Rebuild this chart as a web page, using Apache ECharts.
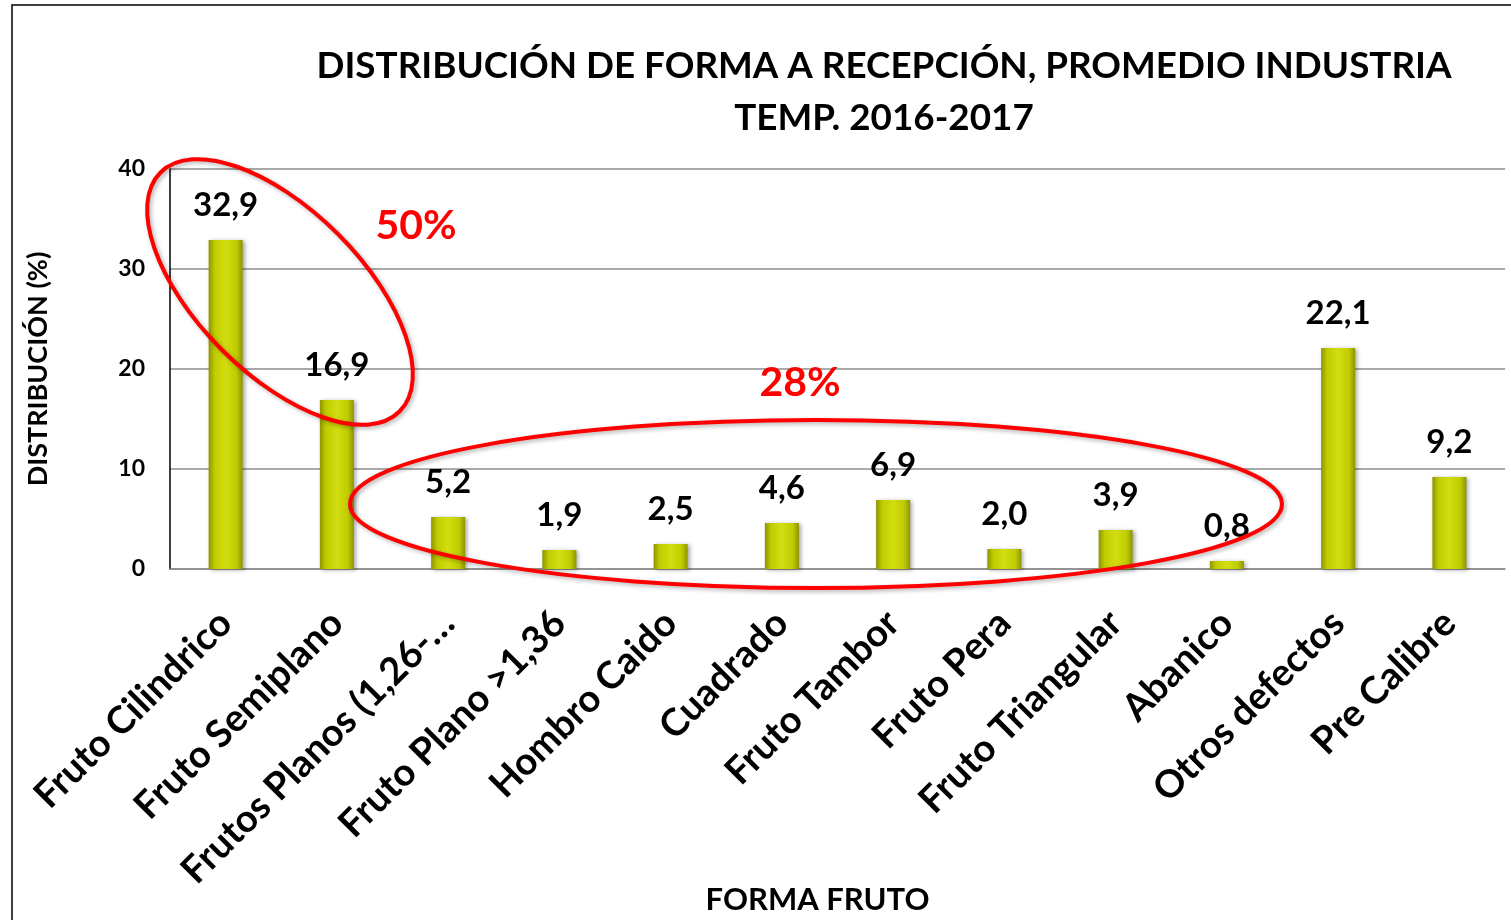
<!DOCTYPE html>
<html>
<head>
<meta charset="utf-8">
<title>Distribución de forma</title>
<script src="https://cdn.jsdelivr.net/npm/echarts@6/dist/echarts.min.js"></script>
<style>
  html, body { margin: 0; padding: 0; background: #fff; }
  #chart { width: 1511px; height: 920px; }
</style>
</head>
<body>
<div id="chart"></div>
<script>
// datos
var categorias = ['Fruto Cilindrico', 'Fruto Semiplano', 'Frutos Planos (1,26-…', 'Fruto Plano >1,36',
  'Hombro Caido', 'Cuadrado', 'Fruto Tambor', 'Fruto Pera', 'Fruto Triangular', 'Abanico',
  'Otros defectos', 'Pre Calibre'];
var valores = [32.9, 16.9, 5.2, 1.9, 2.5, 4.6, 6.9, 2.0, 3.9, 0.8, 22.1, 9.2];
var ticksY = [0, 10, 20, 30, 40];

var fuente = 'Lato';

var myChart = echarts.init(document.getElementById('chart'));

var colorBarra = new echarts.graphic.LinearGradient(0, 0, 1, 0, [
  { offset: 0, color: '#8e9500' },
  { offset: 0.18, color: '#bfcc00' },
  { offset: 0.5, color: '#d3de12' },
  { offset: 0.82, color: '#bfcc00' },
  { offset: 1, color: '#8e9500' }
]);

var option = {
  backgroundColor: '#fff',
  animation: false,
  textStyle: { fontFamily: fuente },
  title: {
    text: 'DISTRIBUCIÓN DE FORMA A RECEPCIÓN, PROMEDIO INDUSTRIA\nTEMP. 2016-2017',
    left: 879,
    top: 35,
    textAlign: 'center',
    textStyle: {
      fontFamily: fuente,
      fontWeight: 'bold',
      fontSize: 36.8,
      lineHeight: 52,
      color: '#000'
    }
  },
  grid: {
    left: 170,
    right: 6,
    top: 169,
    bottom: 351,
    outerBoundsMode: 'none'
  },
  xAxis: {
    type: 'category',
    data: categorias,
    name: 'FORMA FRUTO',
    nameLocation: 'middle',
    nameGap: 315,
    nameMoveOverlap: false,
    nameTextStyle: { fontFamily: fuente, fontWeight: 'bold', fontSize: 31, color: '#000', padding: [0, 40, 0, 0] },
    axisLine: { lineStyle: { color: '#8c8c8c', width: 1.5 } },
    axisTick: { show: false },
    axisLabel: {
      interval: 0,
      rotate: 45,
      margin: 48,
      fontFamily: fuente,
      fontWeight: 'bold',
      fontSize: 38,
      color: '#000'
    }
  },
  yAxis: {
    type: 'value',
    min: ticksY[0],
    max: ticksY[ticksY.length - 1],
    interval: 10,
    name: 'DISTRIBUCIÓN (%)',
    nameLocation: 'middle',
    nameGap: 118,
    nameRotate: 90,
    nameMoveOverlap: false,
    nameTextStyle: { fontFamily: fuente, fontWeight: 'bold', fontSize: 27, color: '#000' },
    axisLine: { show: true, lineStyle: { color: '#000', width: 1.5 } },
    axisTick: { show: false },
    axisLabel: {
      margin: 25,
      fontFamily: fuente,
      fontWeight: 'bold',
      fontSize: 23,
      color: '#000'
    },
    splitLine: { lineStyle: { color: '#8c8c8c', width: 1.5 } }
  },
  series: [{
    type: 'bar',
    data: valores,
    barWidth: 34,
    itemStyle: {
      color: colorBarra,
      shadowColor: 'rgba(0,0,0,0.35)',
      shadowBlur: 4,
      shadowOffsetX: 2,
      shadowOffsetY: 1
    },
    label: {
      show: true,
      position: 'top',
      distance: 18,
      fontFamily: fuente,
      fontWeight: 'bold',
      fontSize: 33,
      color: '#000',
      formatter: function (p) {
        return p.value.toFixed(1).replace('.', ',');
      }
    }
  }],
  graphic: [
    // marco
    {
      type: 'rect',
      shape: { x: 12, y: 5, width: 1560, height: 1000 },
      style: { fill: 'none', stroke: '#000', lineWidth: 1.5 },
      silent: true
    },
    // elipse 50%
    {
      type: 'ellipse',
      x: 280, y: 292,
      rotation: -Math.PI / 4,
      shape: { cx: 0, cy: 0, rx: 169, ry: 82 },
      style: { fill: 'none', stroke: '#ff0000', lineWidth: 4, shadowColor: 'rgba(0,0,0,0.3)', shadowBlur: 4, shadowOffsetX: 2, shadowOffsetY: 2 },
      z: 100
    },
    // elipse 28%
    {
      type: 'ellipse',
      x: 816, y: 504,
      shape: { cx: 0, cy: 0, rx: 466, ry: 84 },
      style: { fill: 'none', stroke: '#ff0000', lineWidth: 4, shadowColor: 'rgba(0,0,0,0.3)', shadowBlur: 4, shadowOffsetX: 2, shadowOffsetY: 2 },
      z: 100
    },
    {
      type: 'text',
      x: 416, y: 226,
      style: { text: '50%', fill: '#ff0000', font: 'bold 41px Lato', textAlign: 'center', textVerticalAlign: 'middle' },
      z: 100
    },
    {
      type: 'text',
      x: 800, y: 383,
      style: { text: '28%', fill: '#ff0000', font: 'bold 41px Lato', textAlign: 'center', textVerticalAlign: 'middle' },
      z: 100
    }
  ]
};

myChart.setOption(option);
</script>
</body>
</html>
